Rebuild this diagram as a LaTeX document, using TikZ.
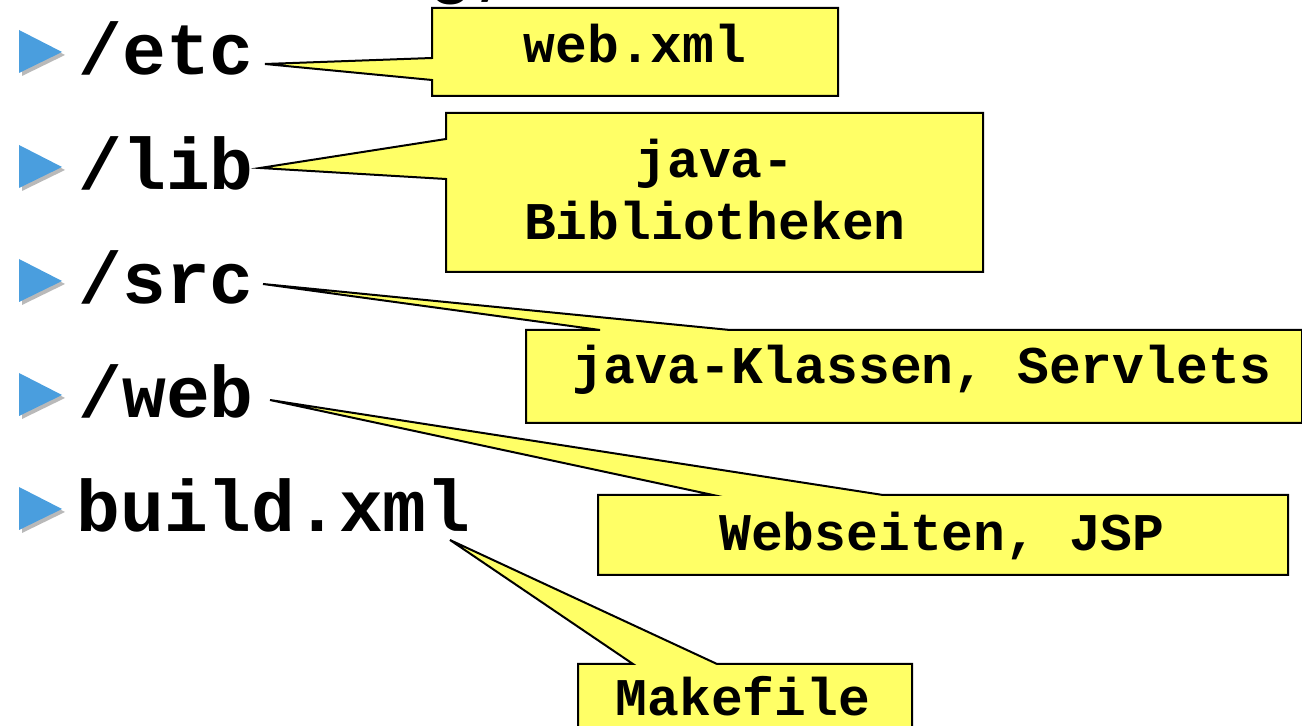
\documentclass[tikz,border=0pt]{standalone}
\usepackage{fontspec}
\newfontfamily\courfont{Liberation Mono}
\usetikzlibrary{calc}
\definecolor{notiz}{RGB}{255,255,102}
\definecolor{pfeil}{RGB}{74,158,222}
\tikzset{
  ordner/.style={anchor=base west,inner sep=0pt,font=\courfont\bfseries\fontsize{36.5}{40}\selectfont},
  notiztext/.style={inner sep=0pt,align=center,font=\courfont\bfseries\fontsize{26.5}{31}\selectfont},
  notizbox/.style={draw=black,fill=notiz,line width=1pt,line join=miter}
}
\newcommand{\aufzaehl}[1]{%
  \fill[gray,opacity=0.55] (22,#1-41) -- (22,#1+2) -- (65,#1-19) -- cycle;
  \fill[pfeil] (19,#1-44) -- (19,#1-1) -- (62,#1-22) -- cycle;}
\begin{document}
\begin{tikzpicture}[x=0.5pt,y=-0.5pt,line join=round,line cap=round]
			\useasboundingbox (0,0) rectangle (1302,726);
			\clip (0,0) rectangle (1302,726);

			% Rest der Ueberschrift (oben abgeschnitten)
			\node[ordner] (titel) at (428,-10) {g,};

			% Spitzen der Notizzettel
			\coordinate (pEtc) at (265,64);
			\coordinate (pLib) at (260,168);
			\coordinate (pSrc) at (263,284);
			\coordinate (pWeb) at (270,400);
			\coordinate (pBuild) at (450,540);

			% Notizzettel mit Zeiger
			\draw[notizbox] (432,8) -- (838,8) -- (838,96) -- (432,96) -- (432,80)
				-- (pEtc) -- (432,58) -- cycle;
			\draw[notizbox] (446,113) -- (983,113) -- (983,272) -- (446,272) -- (446,179)
				-- (pLib) -- (446,139) -- cycle;
			\draw[notizbox] (526,330) -- (600,330) -- (pSrc) -- (730,330) -- (1302,330)
				-- (1302,423) -- (526,423) -- cycle;
			\draw[notizbox] (598,495) -- (713,495) -- (pWeb) -- (883,495) -- (1288,495)
				-- (1288,575) -- (598,575) -- cycle;
			\draw[notizbox] (578,664) -- (633,664) -- (pBuild) -- (717,664) -- (912,664)
				-- (912,740) -- (578,740) -- cycle;

			% Texte der Notizzettel
			\node[notiztext,anchor=base] (webxml) at (635,63) {web.xml};
			\node[notiztext] (biblio) at (715,190) {java-\\Bibliotheken};
			\node[notiztext,anchor=base] (klassen) at (922,384) {java-Klassen, Servlets};
			\node[notiztext,anchor=base] (seiten) at (942,551) {Webseiten, JSP};
			\node[notiztext,anchor=base] (make) at (743,716) {Makefile};

			% Aufzaehlungszeichen
			\aufzaehl{74}
			\aufzaehl{189}
			\aufzaehl{303}
			\aufzaehl{417}
			\aufzaehl{531}

			% Verzeichnisse
			\node[ordner] (etc) at (78,75) {/etc};
			\node[ordner] (lib) at (78,190) {/lib};
			\node[ordner] (src) at (78,304) {/src};
			\node[ordner] (web) at (78,418) {/web};
			\node[ordner] (build) at (76,532) {build.xml};
		\end{tikzpicture}
\end{document}
